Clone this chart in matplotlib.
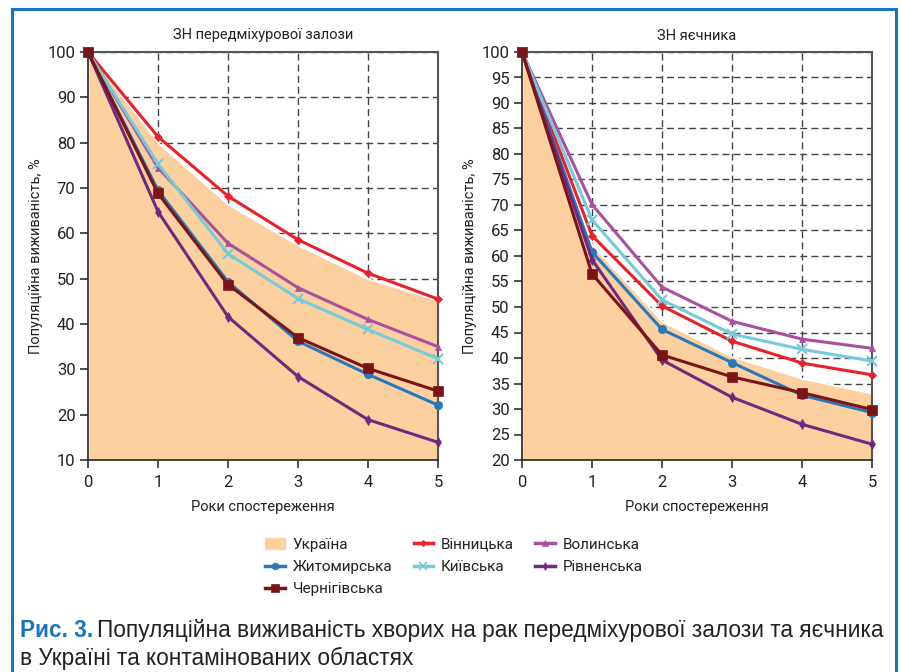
import matplotlib
matplotlib.use("Agg")
import matplotlib.pyplot as plt
from matplotlib import font_manager
from matplotlib.patches import Rectangle
from matplotlib.lines import Line2D

# Data
years = [0, 1, 2, 3, 4, 5]

# ЗН передміхурової залози
pr_ukraine = [100, 80.0, 66.4, 57.4, 50.0, 45.2]
pr_vinn = [100, 81.3, 68.2, 58.6, 51.2, 45.5]
pr_zhyt = [100, 69.5, 49.3, 36.2, 28.9, 22.1]
pr_volyn = [100, 74.5, 57.8, 48.0, 41.0, 35.0]
pr_kyiv = [100, 75.3, 55.5, 45.6, 38.8, 32.3]
pr_rivne = [100, 64.8, 41.6, 28.4, 18.9, 13.9]
pr_chern = [100, 68.8, 48.7, 37.0, 30.2, 25.2]

# ЗН яєчника
ov_ukraine = [100, 62.2, 47.2, 40.3, 36.0, 33.1]
ov_vinn = [100, 64.0, 50.2, 43.3, 39.0, 36.7]
ov_zhyt = [100, 60.8, 45.6, 39.1, 32.7, 29.3]
ov_volyn = [100, 70.1, 53.9, 47.2, 43.7, 41.9]
ov_kyiv = [100, 67.1, 51.4, 44.7, 41.7, 39.4]
ov_rivne = [100, 59.3, 39.6, 32.3, 27.0, 23.1]
ov_chern = [100, 56.5, 40.6, 36.3, 33.2, 29.9]

titles = ["ЗН передміхурової залози", "ЗН яєчника"]
names = ["Україна", "Вінницька", "Волинська", "Житомирська", "Київська",
         "Рівненська", "Чернігівська"]

fill_col = "#fdd09f"
# name: (color, marker, size)
styles = {
    "Вінницька": ("#e8212b", "D", 4),
    "Волинська": ("#a9509f", "^", 5),
    "Житомирська": ("#2879b9", "o", 6),
    "Київська": ("#75cbd9", "x", 7),
    "Рівненська": ("#6f2a7f", "d", 5),
    "Чернігівська": ("#7b1416", "s", 7),
}

available = {f.name for f in font_manager.fontManager.ttflist}
main_font = "Roboto" if "Roboto" in available else "DejaVu Sans"
cap_font = "Liberation Sans Narrow" if "Liberation Sans Narrow" in available else "Liberation Sans"
plt.rcParams["font.family"] = [main_font, "DejaVu Sans"]

fig = plt.figure(figsize=(9.01, 6.72), dpi=100)

# blue frame
frame_col = "#1a73bd"
fig.add_artist(Line2D([12 / 901, 896 / 901], [1 - 9 / 672, 1 - 9 / 672], color=frame_col, lw=2.2))
fig.add_artist(Line2D([12 / 901, 12 / 901], [0, 1 - 9 / 672], color=frame_col, lw=2.2))
fig.add_artist(Line2D([896 / 901, 896 / 901], [0, 1 - 9 / 672], color=frame_col, lw=2.2))

panels = [
    (pr_ukraine, [pr_vinn, pr_volyn, pr_zhyt, pr_kyiv, pr_rivne, pr_chern], (10, 100), 10),
    (ov_ukraine, [ov_vinn, ov_volyn, ov_zhyt, ov_kyiv, ov_rivne, ov_chern], (20, 100), 5),
]
lefts = [88 / 901, 522 / 901]

for k, (ukr, series, ylim, step) in enumerate(panels):
    ax = fig.add_axes([lefts[k], 1 - 460 / 672, 350 / 901, 408 / 672])
    ax.set_xlim(0, 5)
    ax.set_ylim(*ylim)
    ax.set_xticks(years)
    ax.set_yticks(range(ylim[0], ylim[1] + 1, step))
    ax.grid(True, color="#444444", linestyle=(0, (5, 3)), linewidth=1.0, zorder=0)
    ax.set_axisbelow(True)
    ax.fill_between(years, ylim[0], ukr, color=fill_col, edgecolor="white", linewidth=1.2, zorder=1)
    for nm, vals in zip(names[1:], series):
        c, m, s = styles[nm]
        ax.plot(years, vals, color=c, lw=2.2, marker=m, markersize=s,
                markeredgewidth=1.5 if m == "x" else 0.5, zorder=3, clip_on=False)
    for side in ["left", "bottom"]:
        ax.spines[side].set_color("#222222")
        ax.spines[side].set_linewidth(1.2)
    for side in ["top", "right"]:
        ax.spines[side].set_color("#555555")
        ax.spines[side].set_linewidth(1.5)
    ax.tick_params(direction="out", length=6, width=1.1, color="#222222",
                   labelsize=12, labelcolor="#222222", pad=3)
    ax.tick_params(axis="x", pad=5)
    ax.set_title(titles[k], fontsize=10.5, color="#222222", pad=9)
    ax.set_xlabel("Роки спостереження", fontsize=10.5, color="#222222", labelpad=7)
    ax.set_ylabel("Популяційна виживаність, %", fontsize=10.5, color="#222222", labelpad=3)

# legend
handles = [Rectangle((0, 0), 1, 1, color=fill_col)]
for nm in names[1:]:
    c, m, s = styles[nm]
    handles.append(Line2D([], [], color=c, lw=2.5, marker=m, markersize=s * 0.8,
                          markeredgewidth=1.2 if m == "x" else 0.5))
order = [0, 3, 6, 1, 4, 2, 5]
fig.legend([handles[i] for i in order], [names[i] for i in order], ncol=3,
           loc="center", bbox_to_anchor=(454 / 901, 1 - 567 / 672), frameon=False,
           fontsize=11, handlelength=1.3, handletextpad=0.5, columnspacing=1.4,
           labelspacing=0.55, labelcolor="#222222")

# caption
t1 = fig.text(20 / 901, 1 - 637 / 672, "Рис. 3.", fontsize=16.3, fontweight="bold",
              color=frame_col, family=[cap_font, "DejaVu Sans"], va="baseline")
fig.text(20 / 901, 1 - 665 / 672, "в Україні та контамінованих областях", fontsize=16.3,
         color="#222222", family=[cap_font, "DejaVu Sans"], va="baseline")
plt.annotate("Популяційна виживаність хворих на рак передміхурової залози та яєчника",
             xy=(1, 0), xycoords=t1, xytext=(3, 0), textcoords="offset points",
             fontsize=16.3, color="#222222", family=[cap_font, "DejaVu Sans"], va="bottom",
             annotation_clip=False)

fig.savefig("out.png", dpi=100)
